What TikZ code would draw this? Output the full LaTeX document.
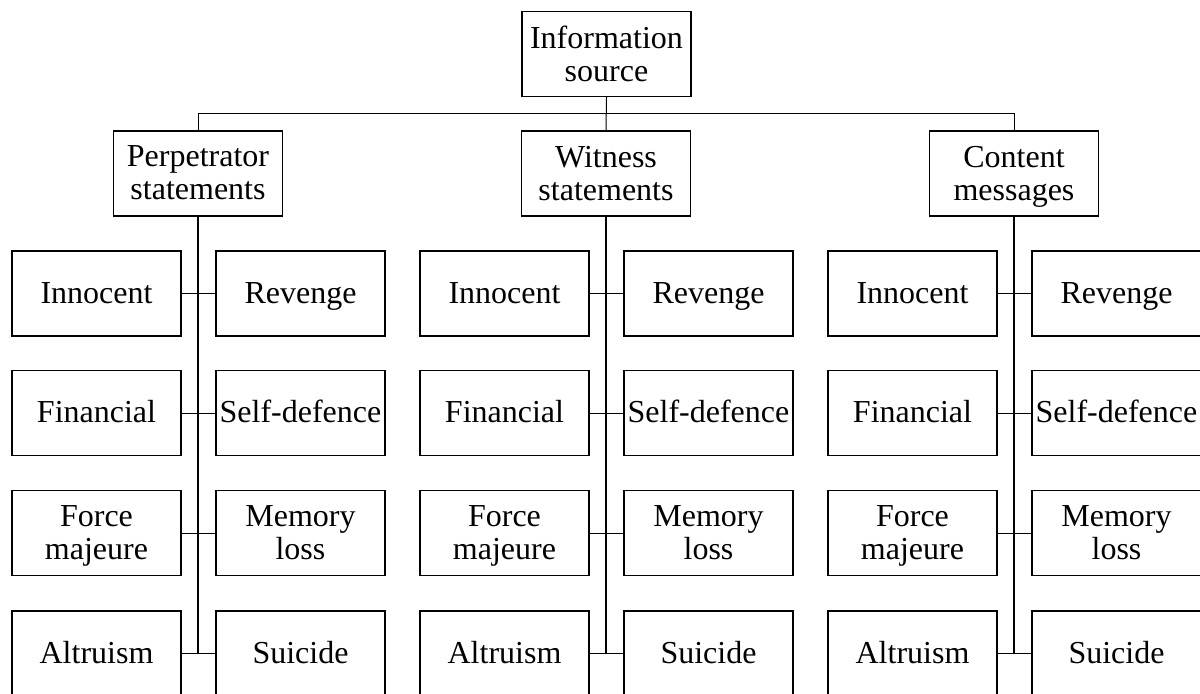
\documentclass[tikz,border=0pt]{standalone}
\usepackage{fontspec}
\setmainfont{Liberation Serif}

\tikzset{
  box/.style={draw, line width=.7pt, minimum width=84.5pt, minimum height=42.5pt,
    inner sep=0pt, align=center, text depth=.5pt, font=\fontsize{16}{16.5}\selectfont},
  one/.style={box, text height=9.5pt, text depth=0pt},
  link/.style={line width=.5pt},
  trunk/.style={line width=.85pt},
}

\begin{document}
\begin{tikzpicture}[x=.5pt, y=-.5pt]
    \path[use as bounding box, clip] (0, 0) rectangle (1200, 693);

    \node[box] (src) at (606.5, 54) {Information\\source};
    \coordinate (bus) at (606.5, 113);

    \foreach \g/\cat/\txt in {0/per/{Perpetrator\\statements},
                              1/wit/{Witness\\statements},
                              2/con/{Content\\messages}} {
      \node[box] (\cat) at (198+408*\g, 173.5) {\txt};

      \node[one] (\cat-inn) at (96.5+408*\g, 293.5) {Innocent};
      \node[one] (\cat-rev) at (300.5+408*\g, 293.5) {Revenge};
      \node[one] (\cat-fin) at (96.5+408*\g, 413) {Financial};
      \node[one] (\cat-def) at (300.5+408*\g, 413) {Self-defence};
      \node[box] (\cat-frc) at (96.5+408*\g, 533) {Force\\majeure};
      \node[box] (\cat-mem) at (300.5+408*\g, 533) {Memory\\loss};
      \node[one] (\cat-alt) at (96.5+408*\g, 653.5) {Altruism};
      \node[one] (\cat-sui) at (300.5+408*\g, 653.5) {Suicide};

      % trunk down the group, then the rungs
      \draw[trunk] (\cat.south) -- (\cat.south |- \cat-alt.east);
      \draw[link] (\cat-inn.east) -- (\cat-rev.west);
      \draw[link] (\cat-fin.east) -- (\cat-def.west);
      \draw[link] (\cat-frc.east) -- (\cat-mem.west);
      \draw[link] (\cat-alt.east) -- (\cat-sui.west);
    }

    % top level
    \draw[link] (src.south) -- (wit.north);
    \draw[link] (per.north) -- (per.north |- bus) -- (con.north |- bus) -- (con.north);
\end{tikzpicture}
\end{document}
